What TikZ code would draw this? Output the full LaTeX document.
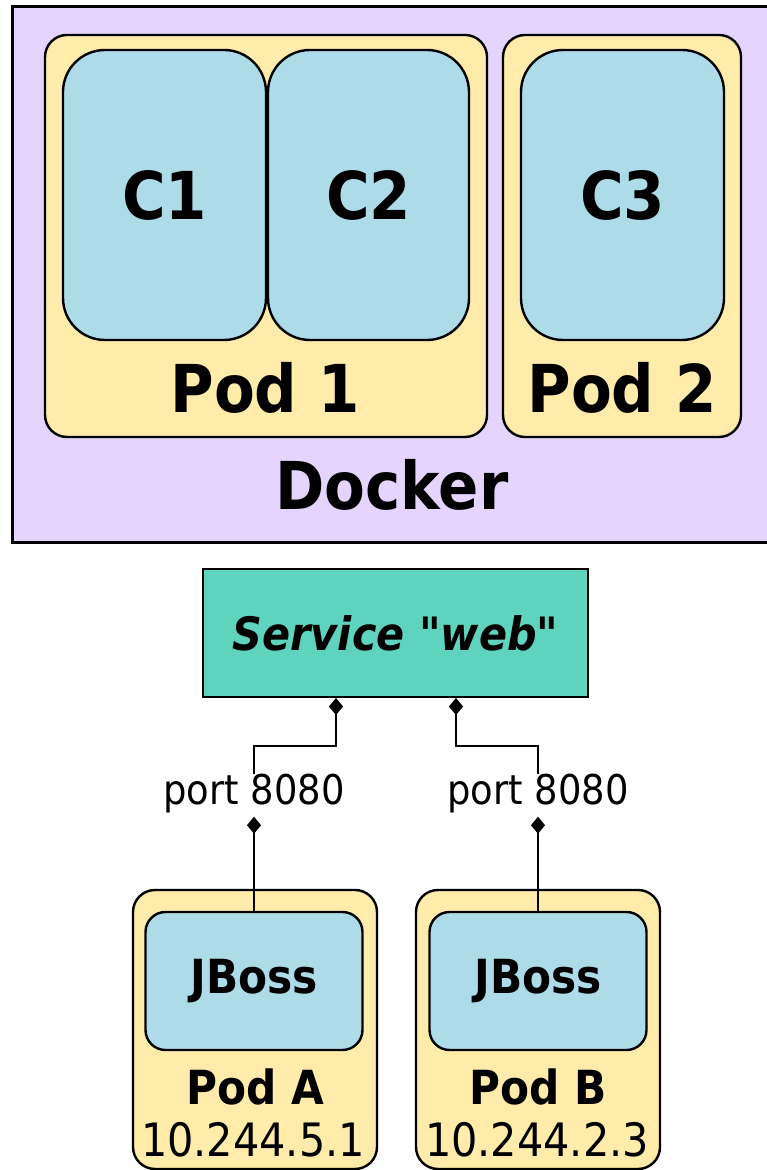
\documentclass[tikz,border=0pt]{standalone}
\usepackage{fontspec}
\setmainfont{DejaVu Sans}[FakeStretch=0.9]
\newfontfamily\qfont{DejaVu Sans}[FakeStretch=0.9]
\usepackage{tikz}
\usetikzlibrary{arrows.meta,positioning,calc}
\definecolor{dkLilac}{HTML}{E4D4FE}
\definecolor{podYellow}{HTML}{FFECAA}
\definecolor{ctrBlue}{HTML}{ADDCE8}
\definecolor{svcGreen}{HTML}{5ED3BD}
\newcommand\dq{{\qfont\bfseries\upshape\char34}}
\tikzset{
  dk/host/.style={draw, line width=3pt, fill=dkLilac, minimum width=768pt, minimum height=536pt},
  dk/pod/.style={draw, line width=2.4pt, rounded corners=22pt, fill=podYellow},
  dk/ctr/.style={draw, line width=2.4pt, rounded corners=42pt, fill=ctrBlue, minimum height=290pt,
    font=\fontsize{66}{70}\selectfont\bfseries},
  dk/jboss/.style={draw, line width=2.4pt, rounded corners=20pt, fill=ctrBlue, minimum width=217pt,
    minimum height=138pt, font=\fontsize{47}{50}\selectfont\bfseries},
  dk/big/.style={anchor=base, inner sep=0pt, font=\fontsize{66}{70}\selectfont\bfseries},
  dk/podname/.style={anchor=base, inner sep=0pt, font=\fontsize{47}{50}\selectfont\bfseries},
  dk/ip/.style={anchor=base, inner sep=0pt, font=\fontsize{46}{50}\selectfont},
  dk/port/.style={anchor=base, inner sep=0pt, font=\fontsize{41}{44}\selectfont},
  dk/svc/.style={draw, line width=2pt, fill=svcGreen, minimum width=385pt, minimum height=128pt,
    font=\fontsize{46}{52}\selectfont\bfseries\itshape},
  dk/link/.style={line width=2pt, -{Diamond[length=17pt,width=14pt]}}
}

\begin{document}
\begin{tikzpicture}[x=1pt, y=1pt]
\useasboundingbox (0,0) rectangle (766,1170);

% docker host with its pods
\node[dk/host] (host) at (396,895) {};
\node[dk/pod, minimum width=442pt, minimum height=402pt] (pod1) at (266,934) {};
\node[dk/pod, minimum width=238pt, minimum height=402pt] (pod2) at (622,934) {};
\node[dk/ctr, minimum width=203pt] (c1) at (164.5,975) {C1};
\node[dk/ctr, minimum width=201pt] (c2) at (368.5,975) {C2};
\node[dk/ctr, minimum width=203pt] (c3) at (622.5,975) {C3};
\node[dk/big] (pod1lbl) at (265,757) {Pod 1};
\node[dk/big] (pod2lbl) at (622,757) {Pod 2};
\node[dk/big] (hostlbl) at (392,660) {Docker};

% service and its pods
\node[dk/svc] (svc) at (395.5,537) {Service \dq web\dq};
\node[dk/pod, minimum width=244pt, minimum height=279pt] (poda) at (255,140.5) {};
\node[dk/pod, minimum width=244pt, minimum height=279pt] (podb) at (538,140.5) {};
\node[dk/jboss] (ja) at (254,189) {JBoss};
\node[dk/jboss] (jb) at (538,189) {JBoss};
\node[dk/podname] (podalbl) at (255,65) {Pod A};
\node[dk/podname] (podblbl) at (538,65) {Pod B};
\node[dk/ip] (ipa) at (253,13) {10.244.5.1};
\node[dk/ip] (ipb) at (537,13) {10.244.2.3};
\node[dk/port] (pa) at (254,365) {port 8080};
\node[dk/port] (pb) at (538,365) {port 8080};

\draw[dk/link] (pa.north) -- ++(0,28) -| ([xshift=-59.5pt]svc.south);
\draw[dk/link] (pb.north) -- ++(0,28) -| ([xshift=60.5pt]svc.south);
\draw[dk/link] (ja.north) -- ([yshift=-3pt]pa.south);
\draw[dk/link] (jb.north) -- ([yshift=-3pt]pb.south);
\end{tikzpicture}
\end{document}
